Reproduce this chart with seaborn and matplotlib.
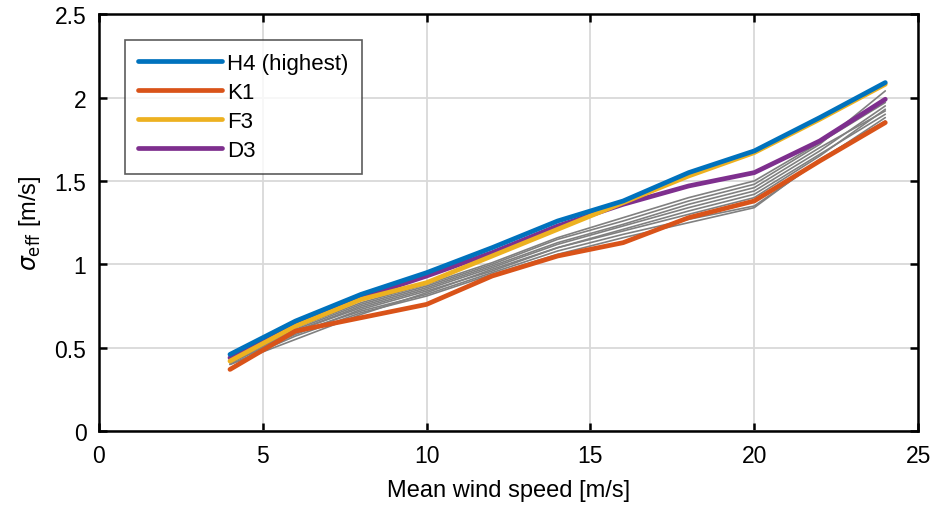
import matplotlib.pyplot as plt
import numpy as np
import pandas as pd
import seaborn as sns

wind_speed = [4, 6, 8, 10, 12, 14, 16, 18, 20, 22, 24]

# highlighted turbines
h4 = [0.46, 0.66, 0.82, 0.95, 1.10, 1.26, 1.38, 1.55, 1.68, 1.88, 2.09]
k1 = [0.37, 0.60, 0.68, 0.76, 0.93, 1.05, 1.13, 1.28, 1.38, 1.62, 1.85]
f3 = [0.42, 0.63, 0.79, 0.89, 1.05, 1.21, 1.37, 1.53, 1.67, 1.87, 2.08]
d3 = [0.44, 0.64, 0.80, 0.93, 1.07, 1.23, 1.36, 1.47, 1.55, 1.74, 1.99]

# remaining turbines (grey)
others = {
    "g1": [0.40, 0.55, 0.70, 0.83, 0.97, 1.10, 1.20, 1.30, 1.40, 1.65, 1.93],
    "g2": [0.42, 0.60, 0.74, 0.85, 0.98, 1.12, 1.23, 1.34, 1.44, 1.68, 1.95],
    "g3": [0.41, 0.59, 0.72, 0.82, 0.95, 1.08, 1.18, 1.27, 1.35, 1.62, 1.88],
    "g4": [0.43, 0.61, 0.76, 0.87, 1.00, 1.15, 1.26, 1.38, 1.48, 1.72, 2.04],
    "g5": [0.42, 0.60, 0.75, 0.86, 0.99, 1.13, 1.24, 1.36, 1.46, 1.70, 1.92],
    "g6": [0.41, 0.58, 0.73, 0.84, 0.96, 1.10, 1.21, 1.32, 1.42, 1.66, 1.90],
    "g7": [0.43, 0.62, 0.77, 0.88, 1.01, 1.16, 1.28, 1.40, 1.50, 1.73, 1.97],
    "g8": [0.40, 0.57, 0.71, 0.81, 0.94, 1.06, 1.16, 1.25, 1.34, 1.63, 1.86],
}

highlight = {
    "H4 (highest)": (h4, "#0072BD"),
    "K1": (k1, "#D95319"),
    "F3": (f3, "#EDB120"),
    "D3": (d3, "#7E2F8E"),
}

sns.set_style("ticks")
plt.rcParams["font.family"] = ["Liberation Sans", "DejaVu Sans"]
plt.rcParams["mathtext.fontset"] = "dejavusans"
plt.rcParams["text.color"] = "black"
plt.rcParams["axes.labelcolor"] = "black"
plt.rcParams["xtick.color"] = "black"
plt.rcParams["ytick.color"] = "black"

fig, ax = plt.subplots(figsize=(9.33, 5.06), dpi=100)
fig.subplots_adjust(left=0.106, right=0.984, bottom=0.146, top=0.970)

grey_df = pd.DataFrame(
    [(k, x, y) for k, vals in others.items() for x, y in zip(wind_speed, vals)],
    columns=["turbine", "ws", "sigma"],
)
sns.lineplot(
    data=grey_df, x="ws", y="sigma", units="turbine", estimator=None,
    color="#808080", lw=1.2, ax=ax, legend=False,
)

# draw highlighted in reverse so H4 is on top
for name in reversed(list(highlight)):
    vals, col = highlight[name]
    sns.lineplot(x=wind_speed, y=vals, color=col, lw=3.4, ax=ax, label=name)

handles, labels = ax.get_legend_handles_labels()
order = [labels.index(n) for n in highlight]
leg = ax.legend(
    [handles[i] for i in order], [labels[i] for i in order],
    loc="upper left", bbox_to_anchor=(0.032, 0.939), borderaxespad=0,
    fontsize=16, frameon=True, fancybox=False, edgecolor="#333333",
    handlelength=3.75, borderpad=0.6, labelspacing=0.36, handletextpad=0.25,
)
leg.get_frame().set_linewidth(1.2)

ax.set_xlim(0, 25)
ax.set_ylim(0, 2.5)
ax.set_xticks([0, 5, 10, 15, 20, 25])
ax.set_yticks([0, 0.5, 1, 1.5, 2, 2.5])
ax.set_yticklabels(["0", "0.5", "1", "1.5", "2", "2.5"])
ax.grid(True, color="#d9d9d9", lw=1.3)
ax.set_axisbelow(True)
for sp in ax.spines.values():
    sp.set_visible(True)
    sp.set_linewidth(1.8)
    sp.set_color("black")
ax.tick_params(direction="in", length=5.5, width=1.8, labelsize=16.5,
               top=True, right=True, pad=9)
ax.set_xlabel("Mean wind speed [m/s]", fontsize=17, labelpad=9)
ax.set_ylabel(r"$\sigma_{\mathrm{eff}}$ [m/s]", fontsize=17, labelpad=8)

fig.savefig("out.png", dpi=100)
